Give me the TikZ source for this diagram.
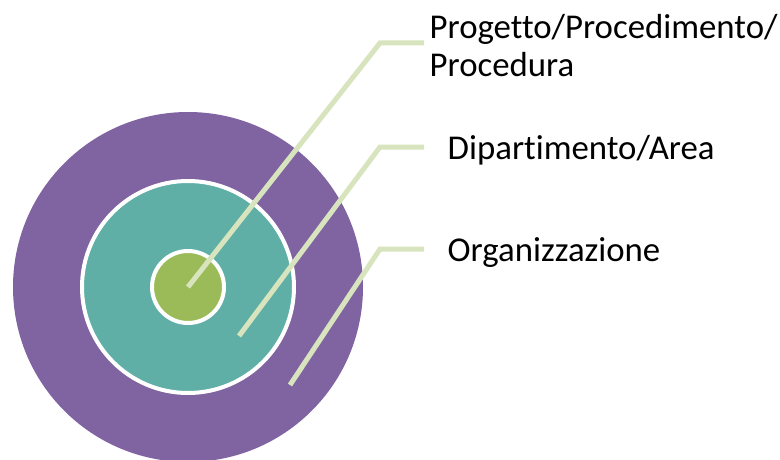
\documentclass[tikz,border=0pt]{standalone}
\usepackage{fontspec}
\setmainfont{Carlito}[Ligatures=NoCommon]
\definecolor{outerc}{HTML}{8064A2}
\definecolor{midc}{HTML}{5FAFA6}
\definecolor{innerc}{HTML}{9BBB59}
\definecolor{leadc}{HTML}{D7E4BD}
\tikzset{
  ring/.style={circle, inner sep=0pt, draw=white, line width=4pt},
  leader/.style={draw=leadc, line width=5pt},
  lbl/.style={anchor=base west, inner sep=0pt, align=left, font=\fontsize{34.8}{38.5}\selectfont}
}
\begin{document}
\begin{tikzpicture}[x=1pt,y=-1pt]
\useasboundingbox (0,0) rectangle (780,460);
\node[circle, inner sep=0pt, fill=outerc, minimum size=350pt] (outer) at (188,287) {};
\node[ring, fill=midc, minimum size=212pt] (mid) at (188,287) {};
\node[ring, fill=innerc, minimum size=72pt] (inner) at (188,287) {};
\coordinate (s1) at (188,287);
\coordinate (k1) at (380,43);
\coordinate (e1) at (424,43);
\coordinate (s2) at (239,336);
\coordinate (k2) at (380,147);
\coordinate (e2) at (424,147);
\coordinate (s3) at (290,385);
\coordinate (k3) at (380,249);
\coordinate (e3) at (424,249);
\draw[leader] (s1) -- (k1) -- (e1);
\draw[leader] (s2) -- (k2) -- (e2);
\draw[leader] (s3) -- (k3) -- (e3);
\node[lbl] (t1) at (429.5,77) {Progetto/Procedimento/\\Procedura};
\node[lbl] (t2) at (447.5,160) {Dipartimento/Area};
\node[lbl] (t3) at (447.5,261) {Organizzazione};
\end{tikzpicture}
\end{document}
